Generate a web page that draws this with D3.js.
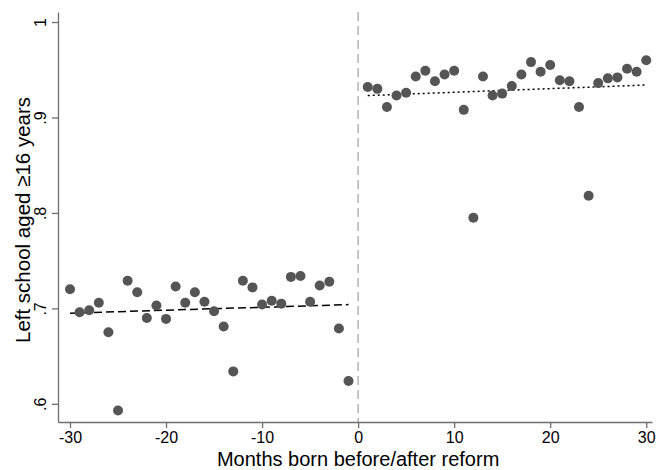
<!doctype html>
<html lang="en">
<head>
  <meta charset="utf-8">
  <script src="https://d3js.org/d3.v7.min.js"></script>
  <style>
    body { margin: 0px; background: #fff; }
    text { font-family: "Liberation Sans", Arial, sans-serif; fill: #000; }
  </style>
</head>
<body>
<div id="container"></div>
<script>
// months before reform and share leaving school at 16+
var monthsBefore = [-30,-29,-28,-27,-26,-25,-24,-23,-22,-21,-20,-19,-18,-17,-16,-15,-14,-13,-12,-11,-10,-9,-8,-7,-6,-5,-4,-3,-2,-1];
var shareBefore = [0.720,0.696,0.698,0.706,0.675,0.593,0.729,0.717,0.690,0.703,0.689,0.723,0.706,0.717,0.707,0.697,0.681,0.634,0.729,0.722,0.704,0.708,0.705,0.733,0.734,0.707,0.724,0.728,0.679,0.624];

var monthsAfter = [1,2,3,4,5,6,7,8,9,10,11,12,13,14,15,16,17,18,19,20,21,22,23,24,25,26,27,28,29,30];
var shareAfter = [0.932,0.930,0.911,0.923,0.926,0.943,0.949,0.938,0.945,0.949,0.908,0.795,0.943,0.923,0.925,0.933,0.945,0.958,0.948,0.955,0.939,0.938,0.911,0.818,0.936,0.941,0.942,0.951,0.948,0.960];

// fitted lines (end points)
var fitBeforeX = [-30, -1];
var fitBeforeY = [0.695, 0.704];
var fitAfterX = [1, 30];
var fitAfterY = [0.923, 0.934];

var xTicks = [-30, -20, -10, 0, 10, 20, 30];
var yTicks = [0.6, 0.7, 0.8, 0.9, 1];
var yTickLabels = [".6", ".7", ".8", ".9", "1"];

var width = 657, height = 470;
var font = "'Liberation Sans', Arial, sans-serif";

var svg = d3.select('#container').append('svg')
    .attr('width', width)
    .attr('height', height);

var x = d3.scaleLinear()
    .domain([-31.25, 30.6])
    .range([58, 652]);

var y = d3.scaleLinear()
    .domain([0.581, 1.0105])
    .range([422, 12]);

var axisColor = "#6e6e6e";

// vertical reform line
svg.append("line")
    .attr("x1", x(0)).attr("x2", x(0))
    .attr("y1", y.range()[1]).attr("y2", y.range()[0])
    .attr("stroke", "#b4b4b4")
    .attr("stroke-width", 1.5)
    .attr("stroke-dasharray", "9,5");

// x axis
var gx = svg.append("g")
    .attr("transform", "translate(0, 422)")
    .call(d3.axisBottom(x).tickValues(xTicks).tickSize(6).tickPadding(4).tickSizeOuter(0)
        .tickFormat(function (d) { return String(d); }));
gx.select(".domain").attr("stroke", axisColor).attr("stroke-width", 1.3);
gx.selectAll(".tick line").attr("stroke", axisColor).attr("stroke-width", 1.3);
gx.selectAll(".tick text").attr("font-size", 16).attr("fill", "#000")
    .style("font-family", font);

// y axis
var gy = svg.append("g")
    .attr("transform", "translate(58, 0)")
    .call(d3.axisLeft(y).tickValues(yTicks).tickSize(6).tickSizeOuter(0)
        .tickFormat(function (d, i) { return yTickLabels[i]; }));
gy.select(".domain").attr("stroke", axisColor).attr("stroke-width", 1.3);
gy.selectAll(".tick line").attr("stroke", axisColor).attr("stroke-width", 1.3);
gy.selectAll(".tick text")
    .attr("font-size", 16)
    .attr("fill", "#000")
    .style("font-family", font)
    .attr("x", null).attr("dy", null)
    .attr("text-anchor", "middle")
    .attr("transform", "translate(-12, 0) rotate(-90)");

// axis titles
svg.append("text")
    .attr("x", x(0))
    .attr("y", 465.5)
    .attr("text-anchor", "middle")
    .attr("font-size", 20)
    .text("Months born before/after reform");

svg.append("text")
    .attr("transform", "translate(30, 220) rotate(-90)")
    .attr("text-anchor", "middle")
    .attr("font-size", 20.5)
    .text("Left school aged \u226516 years");

// fit lines
var line = d3.line()
    .x(function (d) { return x(d[0]); })
    .y(function (d) { return y(d[1]); });

svg.append("path")
    .datum(d3.zip(fitBeforeX, fitBeforeY))
    .attr("d", line)
    .attr("fill", "none")
    .attr("stroke", "#000")
    .attr("stroke-width", 1.5)
    .attr("stroke-dasharray", "8,4");

svg.append("path")
    .datum(d3.zip(fitAfterX, fitAfterY))
    .attr("d", line)
    .attr("fill", "none")
    .attr("stroke", "#000")
    .attr("stroke-width", 1.5)
    .attr("stroke-dasharray", "2,3");

// points
var pts = d3.zip(monthsBefore.concat(monthsAfter), shareBefore.concat(shareAfter));
svg.append("g")
    .selectAll("circle")
    .data(pts)
    .enter()
    .append("circle")
    .attr("cx", function (d) { return x(d[0]); })
    .attr("cy", function (d) { return y(d[1]); })
    .attr("r", 5)
    .attr("fill", "#555555");
</script>
</body>
</html>
